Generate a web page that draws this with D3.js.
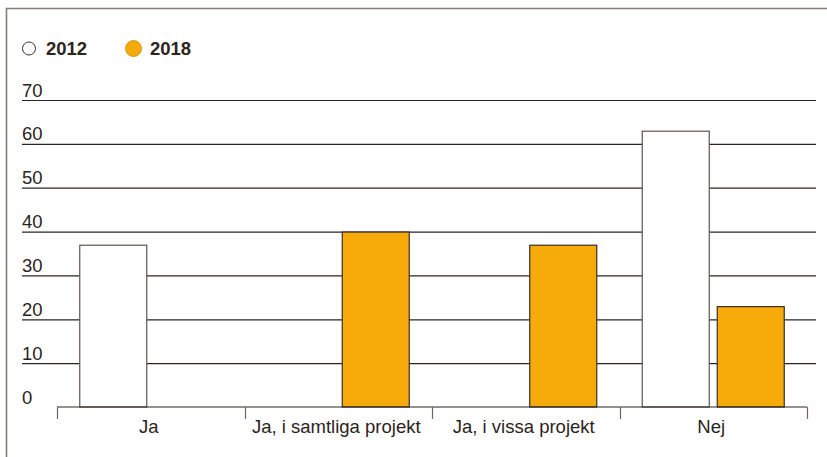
<!DOCTYPE html>
<html>
<head>
<meta charset="utf-8">
<script src="https://cdn.jsdelivr.net/npm/d3@7"></script>
<style>
  body { margin: 0; background: #fff; }
  svg { display: block; font-family: "Liberation Sans", Arial, Helvetica, sans-serif; }
</style>
</head>
<body>
<div id="chart"></div>
<script>
// data
const categories = ["Ja", "Ja, i samtliga projekt", "Ja, i vissa projekt", "Nej"];
const seriesNames = ["2012", "2018"];
const values2012 = [37, null, null, 63];
const values2018 = [null, 40, 37, 23];
const yTicks = [0, 10, 20, 30, 40, 50, 60, 70];

const W = 827, H = 457;
const ink = "#2b2420";
const orange = "#f6ab0b";

const svg = d3.select("#chart").append("svg")
    .attr("width", W)
    .attr("height", H);

// frame (top + left only)
svg.append("path")
    .attr("d", `M6.5,${H} V8.5 H${W}`)
    .attr("fill", "none")
    .attr("stroke", "#857d78")
    .attr("stroke-width", 1.6);

// scales
const y = d3.scaleLinear().domain([0, 70]).range([407, 100]);
const x0 = d3.scaleBand().domain(categories).range([57, 807]).padding(0);
const x1 = d3.scaleBand().domain(seriesNames)
    .range([0, x0.bandwidth()])
    .paddingInner(0.0933)
    .paddingOuter(0.2967);

const colour = d3.scaleOrdinal().domain(seriesNames).range(["#ffffff", orange]);
const strokeCol = d3.scaleOrdinal().domain(seriesNames).range(["#5e5550", "#3a2f28"]);

// gridlines + y labels (labels sit on top of the lines, left aligned)
const grid = svg.append("g")
    .attr("transform", "translate(22,0)")
    .call(d3.axisRight(y).tickValues(yTicks).tickSize(794).tickFormat(d3.format("d")));
grid.select(".domain").remove();
grid.selectAll(".tick line")
    .attr("stroke", ink)
    .attr("stroke-width", 1.2)
    .attr("display", d => d === 0 ? "none" : null);
grid.selectAll(".tick text")
    .attr("x", 0)
    .attr("y", -4)
    .attr("dy", 0)
    .attr("text-anchor", "start")
    .attr("fill", ink)
    .style("font-size", "18.5px");

// bars
const rows = categories.map((c, i) => ({ key: c, vals: [
    { s: "2012", v: values2012[i] },
    { s: "2018", v: values2018[i] }
]}));

svg.append("g").selectAll("g")
    .data(rows)
    .join("g")
    .attr("transform", d => `translate(${x0(d.key)},0)`)
    .selectAll("rect")
    .data(d => d.vals.filter(e => e.v != null))
    .join("rect")
    .attr("x", d => x1(d.s) + 0.5)
    .attr("y", d => y(d.v) + 0.5)
    .attr("width", x1.bandwidth() - 1)
    .attr("height", d => y(0) - y(d.v) - 0.5)
    .attr("fill", d => colour(d.s))
    .attr("stroke", d => strokeCol(d.s))
    .attr("stroke-width", 1.2);

// baseline and category separators
const xr = x0.range();
svg.append("line")
    .attr("x1", xr[0]).attr("x2", xr[1])
    .attr("y1", 407).attr("y2", 407)
    .attr("stroke", ink)
    .attr("stroke-width", 1.2);

const bounds = categories.map(c => x0(c)).concat([xr[1]]);
svg.append("g").selectAll("line")
    .data(bounds)
    .join("line")
    .attr("x1", d => Math.round(d) + 0.5).attr("x2", d => Math.round(d) + 0.5)
    .attr("y1", 407).attr("y2", 419)
    .attr("stroke", "#6e6560")
    .attr("stroke-width", 1.2);

svg.append("g").selectAll("text")
    .data(categories)
    .join("text")
    .attr("x", d => x0(d) + x0.bandwidth() / 2 - 2)
    .attr("y", 433)
    .attr("text-anchor", "middle")
    .attr("fill", ink)
    .style("font-size", "18.5px")
    .text(d => d);

// legend
const legend = svg.append("g");
const legendItems = [
    { s: "2012", cx: 29, r: 6.5, tx: 46 },
    { s: "2018", cx: 133.5, r: 8, tx: 150 }
];
legend.selectAll("circle")
    .data(legendItems)
    .join("circle")
    .attr("cx", d => d.cx)
    .attr("cy", 48.5)
    .attr("r", d => d.r)
    .attr("fill", d => colour(d.s))
    .attr("stroke", d => d.s === "2012" ? "#3a302b" : "#c98a08")
    .attr("stroke-width", d => d.s === "2012" ? 1 : 0.8);
legend.selectAll("text")
    .data(legendItems)
    .join("text")
    .attr("x", d => d.tx)
    .attr("y", 55)
    .attr("fill", ink)
    .style("font-size", "18.5px")
    .style("font-weight", "bold")
    .text(d => d.s);
</script>
</body>
</html>
